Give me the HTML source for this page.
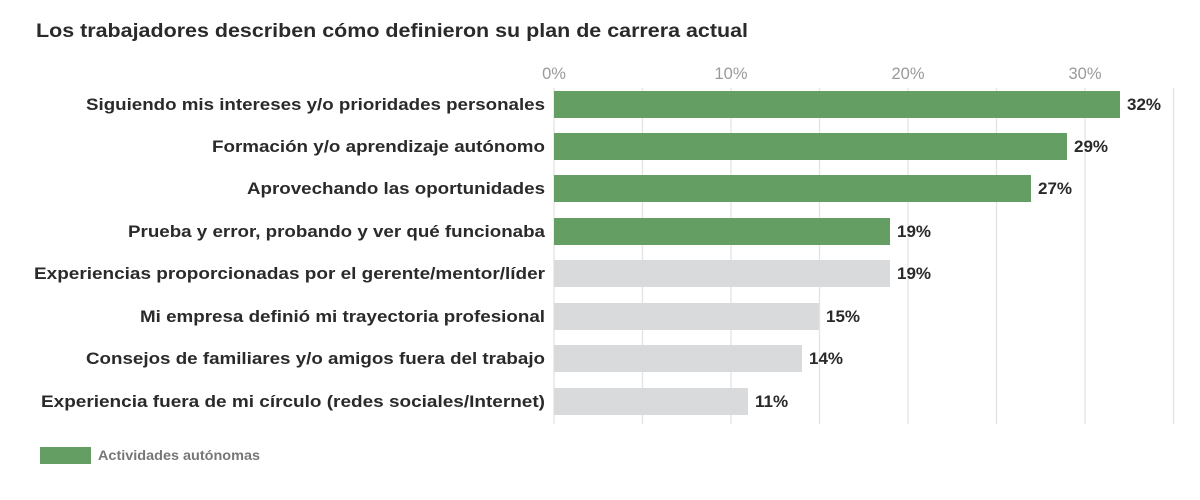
<!DOCTYPE html>
<html><head><meta charset="utf-8"><style>
body{margin:0;width:1200px;height:500px;background:#fff;font-family:"Liberation Sans",sans-serif;overflow:hidden;position:relative}
</style></head><body>
<svg width="1200" height="500" style="position:absolute;left:0;top:0" font-family="Liberation Sans, sans-serif">
<text x="36" y="37" font-size="19.5" font-weight="bold" fill="#2a2a2a" textLength="712" lengthAdjust="spacingAndGlyphs">Los trabajadores describen cómo definieron su plan de carrera actual</text>
<g stroke="#e3e3e3" stroke-width="1.3">
<line x1="554" y1="88" x2="554" y2="424"/><line x1="642.5" y1="88" x2="642.5" y2="424"/>
<line x1="731" y1="88" x2="731" y2="424"/><line x1="819.5" y1="88" x2="819.5" y2="424"/>
<line x1="908" y1="88" x2="908" y2="424"/><line x1="996.5" y1="88" x2="996.5" y2="424"/>
<line x1="1085" y1="88" x2="1085" y2="424"/><line x1="1173.5" y1="88" x2="1173.5" y2="424"/>
</g>
<g font-size="16.5" fill="#9a9a9a" text-anchor="middle">
<text x="554" y="79">0%</text><text x="731" y="79">10%</text><text x="908" y="79">20%</text><text x="1085" y="79">30%</text>
</g>
<g>
<rect x="554" y="91" width="566" height="27" fill="#659e63"/>
<rect x="554" y="133" width="513" height="27" fill="#659e63"/>
<rect x="554" y="175" width="477" height="27" fill="#659e63"/>
<rect x="554" y="218" width="336" height="27" fill="#659e63"/>
<rect x="554" y="260" width="336" height="27" fill="#d9dadb"/>
<rect x="554" y="303" width="265" height="27" fill="#d9dadb"/>
<rect x="554" y="345" width="248" height="27" fill="#d9dadb"/>
<rect x="554" y="388" width="194" height="27" fill="#d9dadb"/>
</g>
<g font-size="17" font-weight="bold" fill="#2a2a2a" lengthAdjust="spacingAndGlyphs">
<text x="86" y="110" textLength="459" lengthAdjust="spacingAndGlyphs">Siguiendo mis intereses y/o prioridades personales</text>
<text x="212" y="152" textLength="333" lengthAdjust="spacingAndGlyphs">Formación y/o aprendizaje autónomo</text>
<text x="247" y="194" textLength="298" lengthAdjust="spacingAndGlyphs">Aprovechando las oportunidades</text>
<text x="128" y="237" textLength="417" lengthAdjust="spacingAndGlyphs">Prueba y error, probando y ver qué funcionaba</text>
<text x="34" y="279" textLength="511" lengthAdjust="spacingAndGlyphs">Experiencias proporcionadas por el gerente/mentor/líder</text>
<text x="140" y="322" textLength="405" lengthAdjust="spacingAndGlyphs">Mi empresa definió mi trayectoria profesional</text>
<text x="86" y="364" textLength="459" lengthAdjust="spacingAndGlyphs">Consejos de familiares y/o amigos fuera del trabajo</text>
<text x="41" y="407" textLength="504" lengthAdjust="spacingAndGlyphs">Experiencia fuera de mi círculo (redes sociales/Internet)</text>
</g>
<g font-size="17" font-weight="bold" fill="#2a2a2a">
<text x="1127" y="110">32%</text><text x="1074" y="152">29%</text><text x="1038" y="194">27%</text>
<text x="897" y="237">19%</text><text x="897" y="279">19%</text><text x="826" y="322">15%</text>
<text x="809" y="364">14%</text><text x="755" y="407">11%</text>
</g>
<rect x="40" y="447" width="51" height="17" fill="#659e63"/>
<text x="98" y="460" font-size="13.5" font-weight="bold" fill="#777" textLength="162" lengthAdjust="spacingAndGlyphs">Actividades autónomas</text>
</svg>
</body></html>
